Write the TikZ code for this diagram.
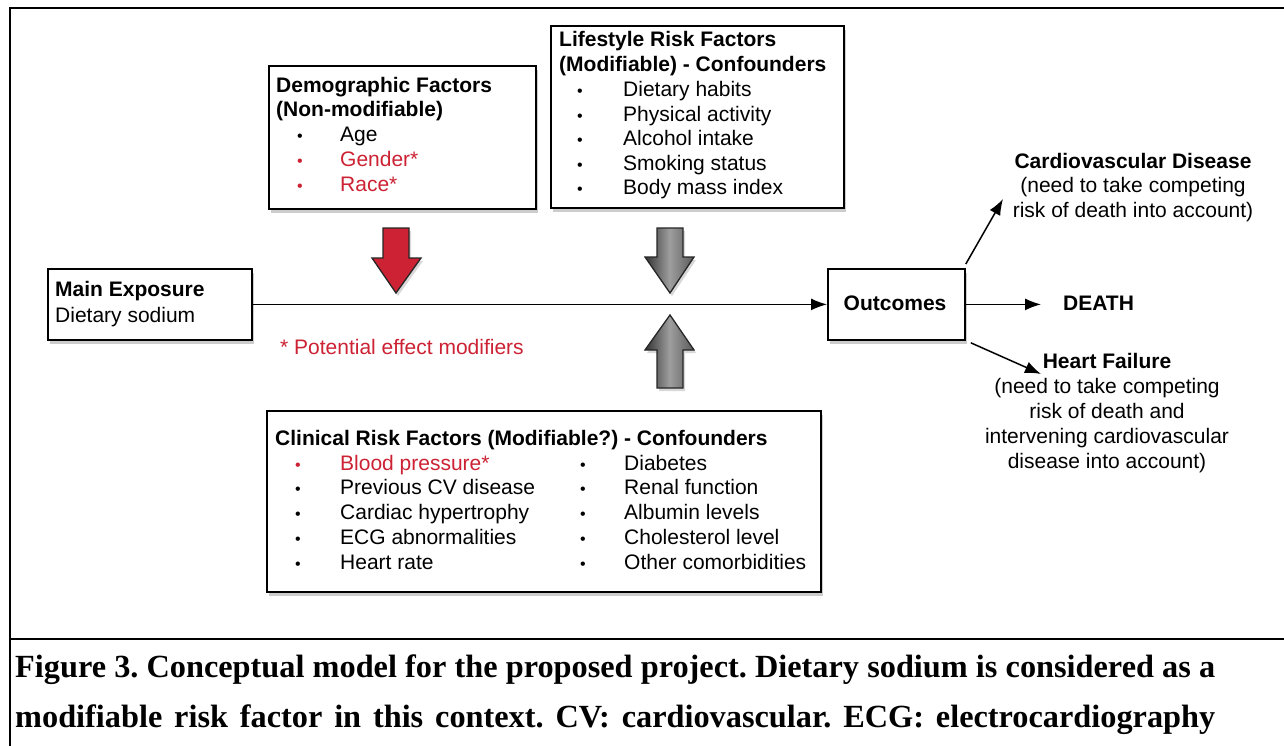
\documentclass[tikz,border=0pt]{standalone}
\usepackage{fontspec}
\setmainfont{Liberation Sans}
\newfontfamily\capfont{Liberation Serif}
\usetikzlibrary{arrows.meta,shadows}
\definecolor{myred}{RGB}{204,34,52}
\frenchspacing
\begin{document}
\begin{tikzpicture}[x=1pt,y=-1pt,
 txt/.style={inner sep=0pt, anchor=base west, font=\fontsize{21}{25}\selectfont},
 ctxt/.style={inner sep=0pt, anchor=base, font=\fontsize{21}{25}\selectfont},
 bul/.style={inner sep=0pt, anchor=base, font=\fontsize{16}{25}\selectfont},
 box/.style={draw, line width=1.8pt, fill=white, inner sep=0pt, anchor=north west,
   drop shadow={shadow xshift=2pt, shadow yshift=-4pt, opacity=0.4}},
 conn/.style={line width=1.5pt, -{Latex[length=16pt,width=12pt]}},
 bigarrow/.style={draw=black!85, line width=1.3pt, line join=miter,
   drop shadow={shadow xshift=2pt, shadow yshift=-3pt, opacity=0.3}},
 grayarrow/.style={bigarrow, left color=black!80, right color=black!65, middle color=black!38},
 capt/.style={inner sep=0pt, anchor=base west, font=\capfont\bfseries\fontsize{32.3}{34}\selectfont}
]
\useasboundingbox (0,0) rectangle (1284,746);
\fill[white] (0,0) rectangle (1284,746);
% frame
\draw[line width=2.2pt] (10,746) -- (10,8) -- (1284,8);
\draw[line width=2.5pt] (10,639) -- (1284,639);

% boxes
\node[box, minimum width=204pt, minimum height=71pt] (main) at (47,268) {};
\node[box, minimum width=267pt, minimum height=143pt] (demo) at (268,65) {};
\node[box, minimum width=293pt, minimum height=182pt] (life) at (550,25) {};
\node[box, minimum width=554pt, minimum height=181pt] (clin) at (266,410) {};
\node[box, minimum width=137pt, minimum height=71pt] (outc) at (827,268) {};

% main exposure
\node[txt] (mainA) at (55,296) {\textbf{Main Exposure}};
\node[txt] (mainB) at (55,322) {Dietary sodium};

% outcomes
\node[ctxt] (outT) at (895,310) {\textbf{Outcomes}};

% demographic
\node[txt] (demA) at (276,93) {\textbf{Demographic Factors}};
\node[txt] (demB) at (276,117) {\textbf{(Non-modifiable)}};
\node[bul] (demb1) at (300,142) {•};
\node[txt] (demi1) at (340,142) {Age};
\node[bul, text=myred] (demb2) at (300,167) {•};
\node[txt, text=myred] (demi2) at (340,167) {Gender*};
\node[bul, text=myred] (demb3) at (300,192) {•};
\node[txt, text=myred] (demi3) at (340,192) {Race*};

% lifestyle
\node[txt] (lifA) at (559,47) {\textbf{Lifestyle Risk Factors}};
\node[txt] (lifB) at (559,72) {\textbf{(Modifiable) - Confounders}};
\foreach \t [count=\i] in {Dietary habits, Physical activity, Alcohol intake, Smoking status, Body mass index}{
  \node[bul] (lifb\i) at (580,{72+24.6*\i}) {•};
  \node[txt] (lifi\i) at (623,{72+24.6*\i}) {\t};
}

% clinical
\node[txt] (cliA) at (275,445) {\textbf{Clinical Risk Factors (Modifiable?) - Confounders}};
\foreach \t [count=\i] in {Previous CV disease, Cardiac hypertrophy, ECG abnormalities, Heart rate}{
  \node[bul] (clib\i) at (298,{470+24.8*\i}) {•};
  \node[txt] (clii\i) at (340,{470+24.8*\i}) {\t};
}
\node[bul, text=myred] (clib0) at (298,470) {•};
\node[txt, text=myred] (clii0) at (340,470) {Blood pressure*};
\foreach \t [count=\i from 0] in {Diabetes, Renal function, Albumin levels, Cholesterol level, Other comorbidities}{
  \node[bul] (clic\i) at (583,{470+24.8*\i}) {•};
  \node[txt] (clij\i) at (624,{470+24.8*\i}) {\t};
}

% modifiers note
\node[txt, text=myred] (note) at (280,354) {* Potential effect modifiers};

% big arrows
\draw[bigarrow, fill=myred] (383,228) -- (409,228) -- (409,258) -- (421,258) -- (396,293) -- (372,258) -- (383,258) -- cycle;
\draw[grayarrow] (657,228) -- (683,228) -- (683,257) -- (694,257) -- (670,293) -- (645,257) -- (657,257) -- cycle;
\draw[grayarrow] (670,315) -- (694,350) -- (683,350) -- (683,388) -- (657,388) -- (657,350) -- (645,350) -- cycle;

% main connector
\draw[conn] (main.east) -- (outc.west);

% outcomes
\node[txt] (death) at (1063,310) {\textbf{DEATH}};
\draw[conn, shorten >=22pt] (outc.east) -- (outc.east -| death.west);

\node[ctxt] (cvdA) at (1133,168) {\textbf{Cardiovascular Disease}};
\node[ctxt] (cvdB) at (1133,193) {(need to take competing};
\node[ctxt] (cvdC) at (1133,218) {risk of death into account)};
\coordinate (cvdEnd) at (1003,199);
\draw[conn] ([yshift=4pt]outc.north east) -- (cvdEnd);

\node[ctxt] (hfA) at (1107,368) {\textbf{Heart Failure}};
\node[ctxt] (hfB) at (1107,393) {(need to take competing};
\node[ctxt] (hfC) at (1107,418) {risk of death and};
\node[ctxt] (hfD) at (1107,443) {intervening cardiovascular};
\node[ctxt] (hfE) at (1107,468) {disease into account)};
\coordinate (hfEnd) at (1041,374);
\draw[conn] ([xshift=5pt,yshift=-2pt]outc.south east) -- (hfEnd);

% caption
\node[capt] (cap1) at (15,677) {\makebox[1200pt][s]{Figure 3. Conceptual model for the proposed project. Dietary sodium is considered as a}};
\node[capt] (cap2) at (15,727) {\makebox[1200pt][s]{modifiable risk factor in this context. CV: cardiovascular. ECG: electrocardiography}};
\end{tikzpicture}
\end{document}
